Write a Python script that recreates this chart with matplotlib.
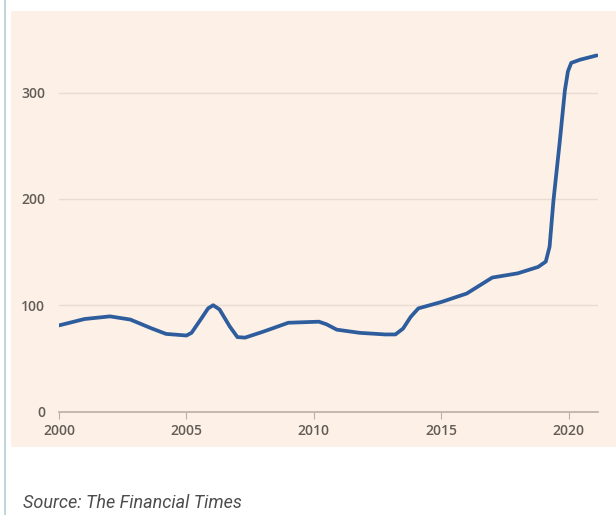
import matplotlib.pyplot as plt
from matplotlib.patches import Rectangle
from matplotlib.lines import Line2D

# index values
years = [2000, 2001, 2002, 2002.8, 2003.6, 2004.2, 2005, 2005.2, 2005.6, 2005.85,
         2006.05, 2006.3, 2006.7, 2007, 2007.3, 2008, 2009, 2010.2, 2010.5, 2010.9,
         2011.8, 2012.8, 2013.2, 2013.5, 2013.8, 2014.1, 2015, 2016, 2017, 2018,
         2018.8, 2019.1, 2019.25, 2019.4, 2019.65, 2019.85, 2019.97, 2020.1,
         2020.45, 2021.1]
values = [81, 87, 89.5, 86.5, 78.5, 73, 71.5, 74, 88, 97,
          100, 96, 80, 70, 69.5, 75, 83.5, 84.5, 82, 77,
          74, 72.5, 72.5, 78, 89, 97, 103, 111, 126, 130,
          136, 141, 155, 198, 254, 302, 320, 328,
          331, 335]
x_ticks = [2000, 2005, 2010, 2015, 2020]
y_ticks = [0, 100, 200, 300]
source = "Source: The Financial Times"

W, H = 616, 515
fig = plt.figure(figsize=(W / 100, H / 100), dpi=100)
fig.patch.set_facecolor("white")

# pink panel and the thin left rule
fig.patches.append(Rectangle((11 / W, (H - 447) / H), 605 / W, 436 / H,
                             transform=fig.transFigure, facecolor="#fdf0e6",
                             edgecolor="none", zorder=-10))
fig.lines.append(Line2D([4.5 / W, 4.5 / W], [0, 1], transform=fig.transFigure,
                        color="#b3d0d6", linewidth=1.2, zorder=-10))

ax = fig.add_axes([59 / W, (H - 411.5) / H, 539 / W, 366.7 / H])
ax.set_facecolor("none")
ax.plot(years, values, color="#2d5d9c", linewidth=2.7,
        solid_joinstyle="round", solid_capstyle="round", zorder=3)

ax.set_xlim(2000, 2021.15)
ax.set_ylim(0, 345)
ax.set_xticks(x_ticks)
ax.set_yticks(y_ticks)

for s in ["top", "right", "left"]:
    ax.spines[s].set_visible(False)
ax.spines["bottom"].set_color("#b9b0a8")
ax.spines["bottom"].set_linewidth(1.2)

for y in y_ticks[1:]:
    ax.axhline(y, color="#e8ddd3", linewidth=1.0, zorder=1)

ax.tick_params(axis="x", length=5, width=0.8, color="#b9b0a8", pad=4,
               labelcolor="#625c57")
ax.tick_params(axis="y", length=0, pad=10, labelcolor="#625c57")
for lab in ax.get_xticklabels() + ax.get_yticklabels():
    lab.set_fontfamily(["Open Sans", "DejaVu Sans"])
    lab.set_fontsize(10)
    lab.set_fontweight("semibold")

fig.text(23 / W, (H - 508) / H, source, ha="left", va="baseline",
         fontsize=13, style="italic", color="#4d4d4d",
         family=["Roboto", "DejaVu Sans"])

fig.savefig("out.png", dpi=100)
